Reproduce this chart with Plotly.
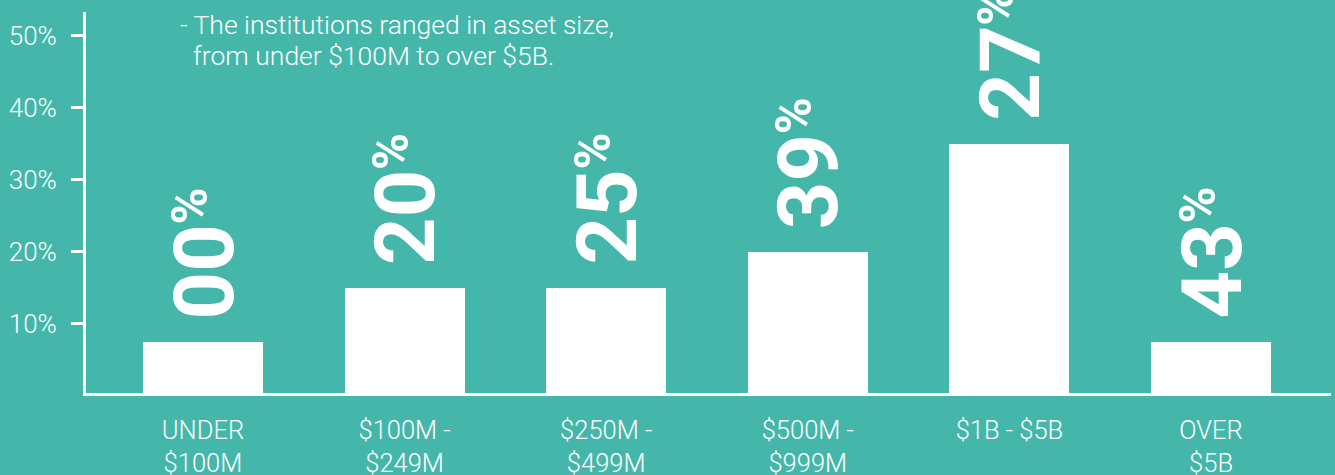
import plotly.graph_objects as go

# Asset-size bands and share of institutions in each band
categories = ["UNDER<br>$100M", "$100M -<br>$249M", "$250M -<br>$499M",
              "$500M -<br>$999M", "$1B - $5B", "OVER<br>$5B"]
shares = [7.5, 15, 15, 20, 35, 7.5]
badge_numbers = ["00", "20", "25", "39", "27", "43"]
y_ticks = [10, 20, 30, 40, 50]
note_lines = ["- The institutions ranged in asset size,",
              "from under $100M to over $5B."]

BG = "#45b7aa"
FONT = "Roboto"
LIGHT = "Roboto Light, Roboto"

fig = go.Figure(go.Bar(
    x=categories,
    y=shares,
    width=0.595,
    marker=dict(color="white", line=dict(width=0)),
    hoverinfo="skip",
))

annotations = []
for cat, val, num in zip(categories, shares, badge_numbers):
    # big rotated number
    annotations.append(dict(
        x=cat, y=val, xref="x", yref="y", text=num, showarrow=False,
        textangle=-90, xanchor="center", yanchor="bottom",
        xshift=1, yshift=21,
        font=dict(family=FONT, size=83, color="white", weight=700),
    ))
    # raised percent sign
    annotations.append(dict(
        x=cat, y=val, xref="x", yref="y", text="%", showarrow=False,
        textangle=-90, xanchor="center", yanchor="bottom",
        xshift=-13, yshift=116,
        font=dict(family=FONT, size=50, color="white", weight=700),
    ))

# note in the upper left
annotations.append(dict(
    x=(178 - 86) / 1245, y=1, xref="paper", yref="paper", yshift=-12,
    text=note_lines[0], showarrow=False, xanchor="left", yanchor="middle",
    font=dict(family=LIGHT, size=26.5, color="white", weight=300),
))
annotations.append(dict(
    x=(191 - 86) / 1245, y=1, xref="paper", yref="paper", yshift=-43,
    text=note_lines[1], showarrow=False, xanchor="left", yanchor="middle",
    font=dict(family=LIGHT, size=26.5, color="white", weight=300),
))

fig.update_layout(
    width=1335, height=475,
    margin=dict(l=86, r=4, t=12, b=82),
    paper_bgcolor=BG, plot_bgcolor=BG,
    showlegend=False,
    bargap=0,
    annotations=annotations,
    xaxis=dict(
        type="category",
        range=[-0.58, 5.595],
        automargin=False,
        showline=True, linecolor="white", linewidth=3,
        ticks="", showgrid=False, zeroline=False,
        tickfont=dict(family=LIGHT, size=25.5, color="white", weight=300),
        ticklabelstandoff=12,
    ),
    yaxis=dict(
        range=[0.416, 53.28],
        automargin=False,
        tickvals=y_ticks,
        ticktext=[f"{v}%" for v in y_ticks],
        showline=True, linecolor="white", linewidth=3,
        ticks="outside", ticklen=12, tickwidth=3, tickcolor="white",
        showgrid=False, zeroline=False,
        tickfont=dict(family=LIGHT, size=26, color="white", weight=300),
        ticklabelstandoff=9,
    ),
)

fig.write_html("out.html")
